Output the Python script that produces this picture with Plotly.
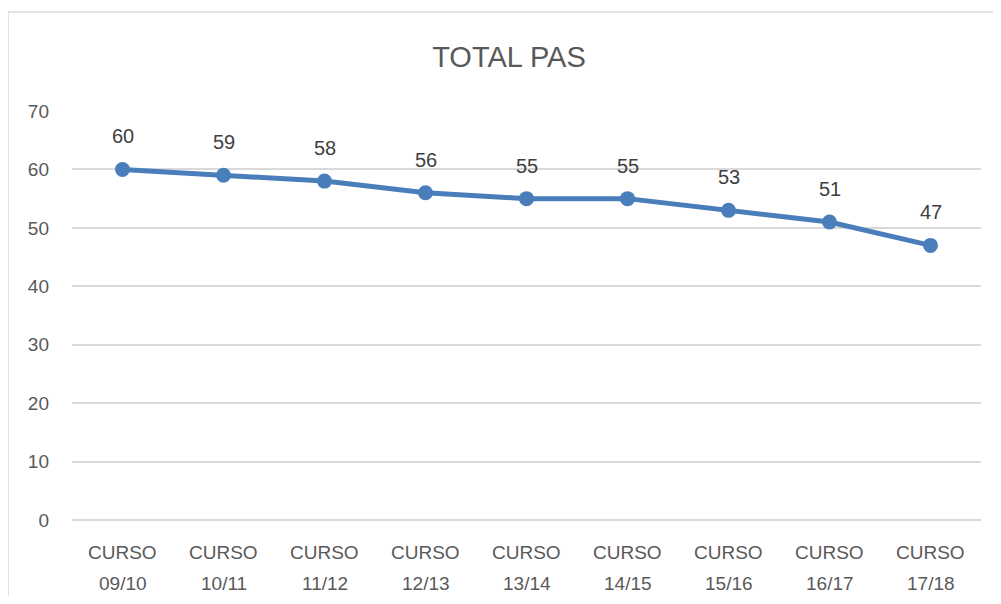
import plotly.graph_objects as go

categories = ["CURSO 09/10", "CURSO 10/11", "CURSO 11/12", "CURSO 12/13",
              "CURSO 13/14", "CURSO 14/15", "CURSO 15/16", "CURSO 16/17",
              "CURSO 17/18"]
values = [60, 59, 58, 56, 55, 55, 53, 51, 47]
y_ticks = [0, 10, 20, 30, 40, 50, 60, 70]
title_text = "TOTAL PAS"

FONT = "Liberation Sans"
TICK_COLOR = "#595959"
GRID = "#D9D9D9"
fig = go.Figure()
fig.add_trace(go.Scatter(
    x=categories, y=values, mode="lines+markers",
    line=dict(color="#4A7EBB", width=5),
    marker=dict(color="#4A7EBB", size=15),
    hoverinfo="skip", showlegend=False,
))
for c, v in zip(categories, values):
    fig.add_annotation(x=c, y=v, text=str(v), showarrow=False, yshift=33,
                       font=dict(family=FONT, size=20, color="#404040"))
# two-line category labels with wider line spacing
for c in categories:
    first, second = c.split(" ", 1)
    fig.add_annotation(x=c, y=0, yref="paper", text=first, showarrow=False,
                       yanchor="middle", yshift=-32,
                       font=dict(family=FONT, size=19, color=TICK_COLOR))
    fig.add_annotation(x=c, y=0, yref="paper", text=second, showarrow=False,
                       yanchor="middle", yshift=-63,
                       font=dict(family=FONT, size=19, color=TICK_COLOR))

W, H = 985, 588
ml, mr, mt, mb = 64, 12, 103, 76
pw, ph = W - ml - mr, H - mt - mb
fig.add_shape(type="rect", xref="paper", yref="paper",
              x0=(0 - ml) / pw, x1=1.2, y0=-0.5, y1=1 + (mt - 4) / ph,
              line=dict(color=GRID, width=1.5), fillcolor="rgba(0,0,0,0)")

fig.update_layout(
    width=W, height=H,
    margin=dict(l=ml, r=mr, t=mt, b=mb),
    paper_bgcolor="white", plot_bgcolor="white",
    title=dict(text=title_text, x=(501 - ml) / pw, xref="paper", xanchor="center",
               y=1 - 49 / H, yanchor="middle",
               font=dict(family=FONT, size=29, color=TICK_COLOR)),
    xaxis=dict(range=[-0.5, len(categories) - 0.5], showgrid=False, showline=False,
               zeroline=False, ticks="", showticklabels=False),
    yaxis=dict(range=[0, 70], tickvals=y_ticks, showgrid=True, gridcolor=GRID,
               gridwidth=1.5, zeroline=True, zerolinecolor=GRID, zerolinewidth=1.5,
               showline=False, ticks="",
               tickfont=dict(family=FONT, size=19, color=TICK_COLOR),
               ticklabelstandoff=22),
)
fig.write_html("out.html")
